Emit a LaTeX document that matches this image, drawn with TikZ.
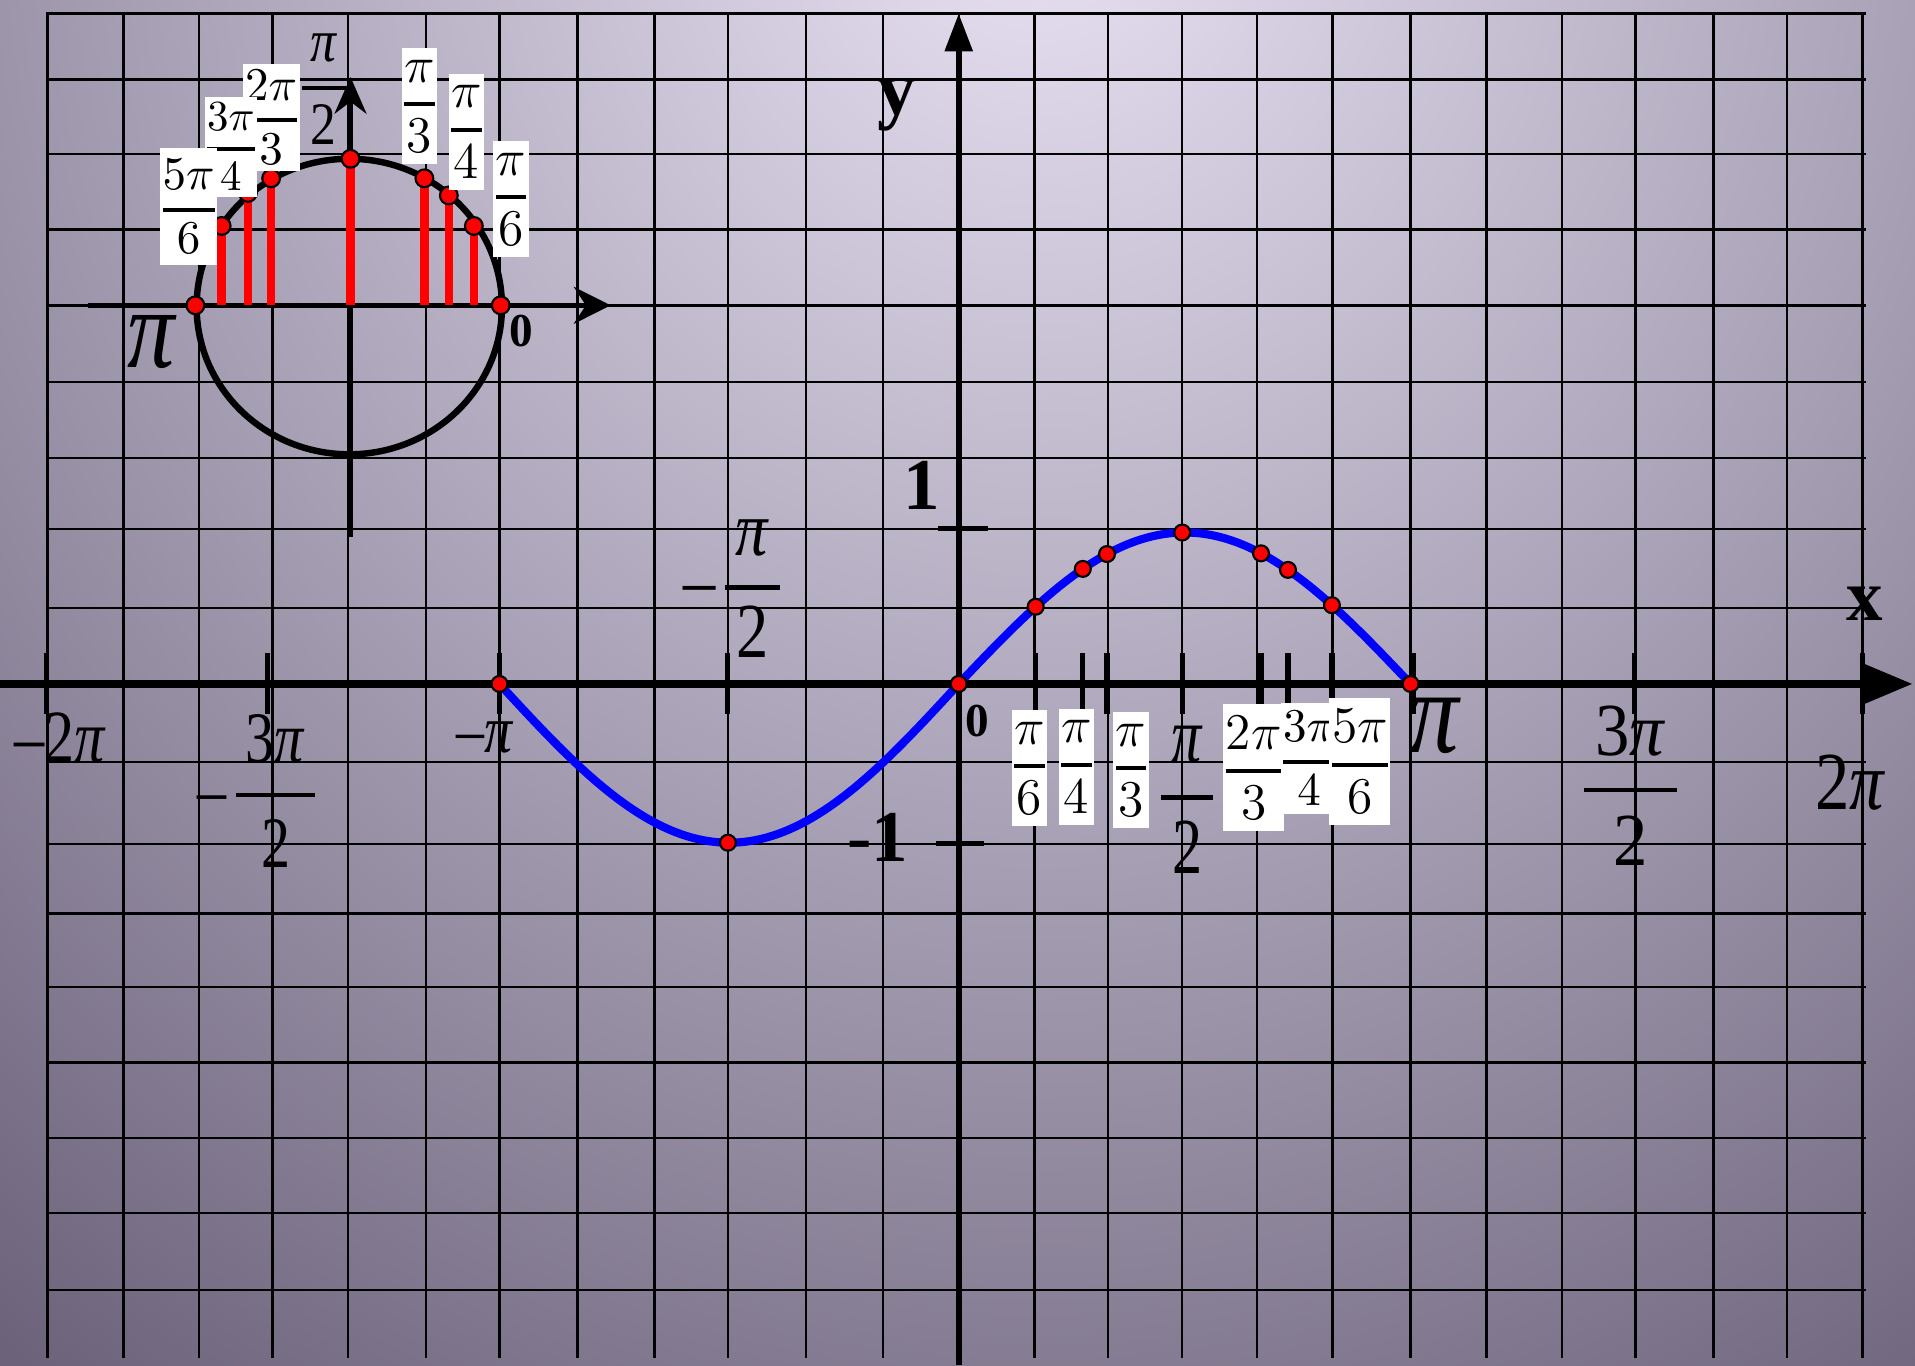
\documentclass[tikz,border=0pt]{standalone}
\usepackage{amsmath}
\usepackage{graphicx}
\usepackage{fontspec}
\setmainfont{Liberation Serif}
\usetikzlibrary{arrows.meta}
\definecolor{bgtop}{HTML}{EAE3F4}
\definecolor{bgedge}{HTML}{635A72}
\definecolor{curveblue}{HTML}{0000FF}
\newcommand{\tall}[2][1.2]{\scalebox{1}[#1]{#2}}
\newcommand{\bigfr}[2]{$\genfrac{}{}{0.8pt}{0}{\text{\,#1\,}}{\text{#2}}$}
\newcommand{\boxfr}[2]{{\nulldelimiterspace=0pt$\genfrac{}{}{0.9pt}{0}{#1}{#2}$}}
\newcommand{\itpi}{\textit{π}}
\begin{document}
\begin{tikzpicture}[
  x=0.01cm, y=-0.01cm,
  gridline/.style={line width=0.55pt},
  axisline/.style={line width=1.8pt},
  tickmark/.style={line width=1.2pt},
  sinecurve/.style={curveblue,line width=1.9pt},
  unitcircle/.style={line width=1.5pt},
  redstick/.style={red,line width=2pt},
  reddot/.style={circle,fill=red,draw=black,line width=0.5pt,minimum size=0.13cm,inner sep=0pt},
  lblbox/.style={fill=white,inner xsep=0.6pt,inner ysep=2.7pt,font=\fontsize{#1}{#1}\selectfont},
  lblbox/.default=12.5,
  lblbig/.style={inner sep=0pt,font=\fontsize{#1}{#1}\selectfont},
  lblbold/.style={inner sep=0pt,font=\fontsize{#1}{#1}\selectfont\bfseries}
]
\useasboundingbox (0,0) rectangle (1568,1118);
\begin{scope}
  \clip (0,0) rectangle (1568,1118);
  \fill[bgedge] (0,0) rectangle (1568,1118);
  \shade[inner color=bgtop,outer color=bgedge] (850,-100) ellipse[x radius=1500,y radius=1620];
\end{scope}

% grid
\foreach \gx in {39,101,163,223,285,349,409,473,536,596,660,723,785,847,907,968,1029,1091,1155,1217,1279,1339,1403,1463,1525}
  \draw[gridline] (\gx,10) -- (\gx,1112);
\foreach \gy in {11,65,126,188,250,313,375,433,498,560,624,691,748,808,870,932,993,1056}
  \draw[gridline] (38,\gy) -- (1528,\gy);

% unit circle
\coordinate (uc) at (286,251);
\coordinate (ul) at (72,250);
\coordinate (ur) at (500,250);
\coordinate (ub) at (287,440);
\coordinate (ut) at (287,63);
\draw[unitcircle] (uc) ellipse[x radius=125,y radius=121];
\draw[line width=1.3pt,-{Stealth[length=0.3cm,width=0.3cm]}] (ul) -- (ur);
\draw[line width=1.3pt,-{Stealth[length=0.3cm,width=0.26cm]}] (ub) -- (ut);
\foreach \px/\py [count=\i] in {181.5/185,203/158,222/146,287/130,347.5/146,367.5/160,388/185}{
  \coordinate (u\i) at (\px,\py);
  \coordinate (v\i) at (\px,250);
  \draw[redstick] (u\i) -- (v\i);
  \node[reddot,minimum size=0.145cm] (ud\i) at (u\i) {};
}
\node[reddot,minimum size=0.145cm] (upi) at (160,250) {};
\node[reddot,minimum size=0.145cm] (uzero) at (410,250) {};

% axes
\coordinate (xl) at (0,560);
\coordinate (xr) at (1566,560);
\coordinate (yb) at (785,1118);
\coordinate (yt) at (785,11);
\draw[axisline,-{Triangle[length=0.43cm,width=0.34cm]}] (xl) -- (xr);
\draw[line width=1.4pt,-{Triangle[length=0.31cm,width=0.22cm]}] (yb) -- (yt);
\foreach \tx in {38,219,409,596,848,886.6,906.4,968,1032.5,1054.6,1090.6,1157,1338,1525}
  \draw[tickmark] (\tx,535) -- (\tx,585);
\draw[tickmark] (768,433) -- (809,433);
\draw[tickmark] (766,691) -- (806,691);

% sine
\draw[sinecurve] plot[domain=409:785,samples=80,smooth] (\x,{560+130*sin((785-\x)/376*180)})
  -- plot[domain=785:1155,samples=80,smooth] (\x,{560-124*sin((\x-785)/370*180)});
\node[reddot] (cneg) at (409,560) {};
\node[reddot] (cmin) at (596,690) {};
\node[reddot] (corig) at (785,560) {};
\node[reddot] (cpi) at (1155,560) {};
\foreach \px [count=\i] in {848,886.6,906.4,968,1032.5,1054.6,1090.6}
  \node[reddot] (cd\i) at (\px,{560-124*sin((\px-785)/370*180)}) {};

% circle labels
\node[lblbox=11,inner ysep=1.5pt] (s23) at (222,96) {\boxfr{2\pi}{3}};
\node[lblbox=10,inner ysep=1.5pt] (s34) at (189,120) {\boxfr{3\pi}{4}};
\node[lblbox=11] (s56) at (154.5,169) {\boxfr{5\pi}{6}};
\node[lblbig=12] (s12) at (265,73) {\tall[1.17]{\bigfr{\itpi}{2}}};
\node[lblbox] (s13) at (343.5,87) {\boxfr{\pi}{3}};
\node[lblbox] (s14) at (382,108) {\boxfr{\pi}{4}};
\node[lblbox] (s16) at (418.5,163) {\boxfr{\pi}{6}};
\node[lblbig=22] (spi) at (125,280) {\tall{\itpi}};
\node[lblbold=11] (s0) at (427,271) {0};

% axis labels
\node[lblbig=14] (am2pi) at (49,604) {\tall[1.25]{\textendash2\itpi}};
\node[lblbig=13.5] (am3pi2) at (212,647.5) {\tall[1.25]{\textendash\hspace{1pt}\bigfr{3\itpi}{2}}};
\node[lblbig=13] (ampi) at (397,604) {\tall{\textendash\itpi}};
\node[lblbig=15] (ampi2) at (601.5,482) {\tall[1.21]{\textendash\hspace{1pt}\bigfr{\itpi}{2}}};
\node[lblbox] (a16) at (843,629) {\boxfr{\pi}{6}};
\node[lblbox] (a14) at (881.5,628) {\boxfr{\pi}{4}};
\node[lblbox] (a13) at (926,630.5) {\boxfr{\pi}{3}};
\node[lblbig=14] (api2) at (972,655) {\tall[1.32]{\bigfr{\itpi}{2}}};
\node[lblbox=11.5] (a23) at (1026.5,628.5) {\boxfr{2\pi}{3}};
\node[lblbox=10.5,inner ysep=2pt] (a34) at (1072,621) {\boxfr{3\pi}{4}};
\node[lblbox=11.5] (a56) at (1113.5,623.5) {\boxfr{5\pi}{6}};
\node[lblbig=23] (api) at (1175,594) {\tall{\itpi}};
\node[lblbig=16] (a3pi2) at (1335,643.5) {\tall[1.09]{\bigfr{3\itpi}{2}}};
\node[lblbig=16] (a2pi) at (1515,641) {\tall{2\itpi}};
\node[lblbold=11] (a0) at (800.5,590) {0};
\node[lblbold=17] (a1) at (754.5,397.5) {1};
\node[lblbold=17] (am1) at (718.5,686) {-1};
\node[lblbold=17] (ax) at (1527,494.5) {x};
\node[lblbold=18] (ay) at (734,86) {y};
\end{tikzpicture}
\end{document}
